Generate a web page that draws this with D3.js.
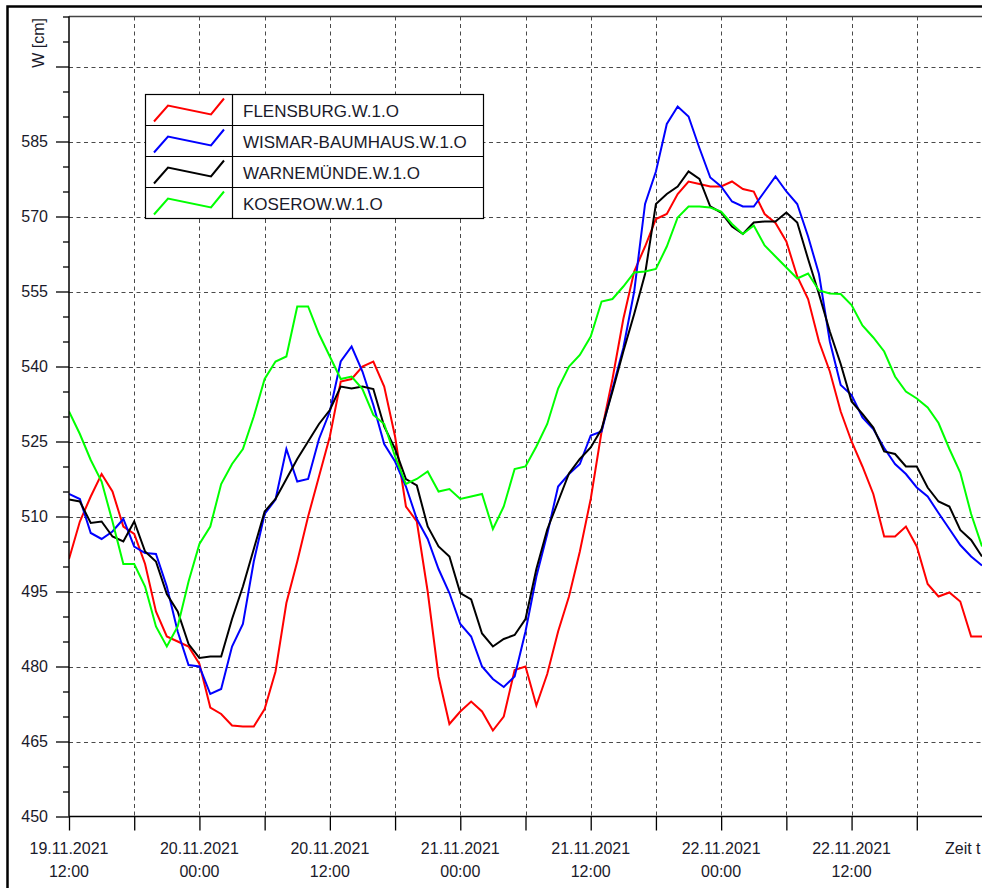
<!DOCTYPE html>
<html><head><meta charset="utf-8">
<script src="https://cdn.jsdelivr.net/npm/d3@7"></script>
<style>
body{margin:0;background:#fff}
svg{display:block;font-family:"Liberation Sans",Arial,sans-serif}
</style>
</head><body>
<svg id="c" width="982" height="888"></svg>
<script>
// ---------- data (hourly readings, 19.11.2021 12:00 -> 23.11.2021 00:00) ----------
const startTime = Date.UTC(2021, 10, 19, 12);
const endTime = Date.UTC(2021, 10, 23, 0);

const seriesNames = ["FLENSBURG.W.1.O", "WISMAR-BAUMHAUS.W.1.O", "WARNEMÜNDE.W.1.O", "KOSEROW.W.1.O"];
const seriesColors = ["#ff0000", "#0000ff", "#000000", "#00ff00"];

const flensburg = [501.5,509,514,518.5,515,508,506.5,500.5,491,486,485,484,480.5,471.8,470.5,468.2,468,468,471.5,479,492.7,501,510,518,526,
  537,537.5,540,541,536,526,512,509,495,478,468.5,471,473,471,467.2,470,479.3,480,472.2,478.5,487,494,503,513.5,527,537.5,
  549.5,559,564,569.5,570.5,574.5,577,576.5,576,576,577,575.5,575,570.5,568.7,565,558,553.5,545,539,531,525,520,514.5,506,
  506,508,504,496.5,494,494.8,493,486,486];
const wismar = [514.5,513.5,506.7,505.5,507,509.5,504,502.7,502.5,496,487,480.3,480,474.5,475.5,484,488.5,501,510.5,513.4,523.5,517,517.5,525.5,531,
  541,544,539,532.3,524.5,521,516,509.5,505.5,499.5,494.7,488.5,486,480,477.5,475.9,478,487,498,506.5,516,518.5,520.5,526.2,527,535.5,
  543.7,555,572.5,579,588.5,592,590,583.7,577.8,576,573,572,572,575,578,575,572.5,566,558.5,545,536.3,534.3,529.8,527.5,523.7,
  520.5,518.5,515.8,514,510.7,507.5,504.3,502,500.2];
const warnemuende = [513.4,513,508.7,509,506,505,509,503,501,494.5,491,484.5,481.7,482,482,489.5,496,503.5,511,513.5,517.5,521.5,525,528.5,531.3,
  536,535.6,536,535.5,528,523.5,517.5,516.2,508,504,502,494.7,493.4,486.6,484,485.5,486.3,489.5,499.5,507.4,513,518.6,521.5,523.8,527.5,535,
  543,550.5,558.5,572.5,574.5,576,579,577.5,572,570.8,568,566.5,568.8,569,569,570.8,568.8,561.5,554.5,547,540.5,533,530.5,527.8,523,
  522.5,520,520,515.8,513,512,507.3,505.3,502];
const koserow = [531,526.5,521.3,517,509,500.5,500.5,496,488,484,488,497,504.5,508,516.5,520.5,523.5,530,537.5,541,542,552,552,546.5,542,
  537.5,538,535.5,530.3,528.5,522,516.5,517.5,519,515,515.5,513.5,514,514.5,507.5,512,519.5,520,524,528.5,535.6,540,542.3,546,553,553.5,
  556,558.8,559,559.5,564,569.8,572,572,571.8,571,568.5,566.5,568.2,564.2,562,559.8,557.6,558.6,555.2,554.6,554.5,552.3,548.2,545.8,543,
  538,535,533.6,531.8,528.7,523.5,518.8,510.5,504];

const seriesValues = [flensburg, wismar, warnemuende, koserow];

const yTickValues = [450, 465, 480, 495, 510, 525, 540, 555, 570, 585, 600];
const yMinorStep = 5;
const xTickLabels = [
  ["19.11.2021", "12:00"], ["20.11.2021", "00:00"], ["20.11.2021", "12:00"], ["21.11.2021", "00:00"],
  ["21.11.2021", "12:00"], ["22.11.2021", "00:00"], ["22.11.2021", "12:00"]
];
const yAxisTitle = "W [cm]";
const xAxisTitle = "Zeit t";

// ---------- drawing ----------
const svg = d3.select("#c");
const L = 69, R = 982, T = 16.5, B = 816.5;
const x = d3.scaleUtc().domain([new Date(startTime), new Date(endTime)]).range([L, R]);
const y = d3.scaleLinear().domain([450, 610]).range([B, T]);
const tAt = i => new Date(startTime + i * 3600e3);

svg.append("rect").attr("width", 982).attr("height", 888).attr("fill", "#fff");

// outer frame
svg.append("path").attr("d", "M7.5,888 V6.5 H982").attr("fill", "none")
  .attr("stroke", "#000").attr("stroke-width", 2.5);
// plot top border
svg.append("line").attr("x1", L).attr("x2", R).attr("y1", T).attr("y2", T)
  .attr("stroke", "#444").attr("stroke-width", 1.5);

const grid = svg.append("g").attr("stroke", "#4a4a4a").attr("stroke-width", 1)
  .attr("stroke-dasharray", "4,3.5").attr("fill", "none");
yTickValues.filter(v => v !== 450).forEach(v => {
  const yy = Math.round(y(v)) + 0.5;
  grid.append("line").attr("x1", L).attr("x2", R).attr("y1", yy).attr("y2", yy);
});
const xTicks = d3.utcHour.every(6).range(new Date(startTime), new Date(endTime));
xTicks.slice(1).forEach(d => {
  const xx = Math.round(x(d)) + 0.5;
  grid.append("line").attr("x1", xx).attr("x2", xx).attr("y1", T).attr("y2", B);
});

// lines
svg.append("clipPath").attr("id", "clip").append("rect")
  .attr("x", L).attr("y", T).attr("width", R - L).attr("height", B - T);
const line = d3.line().x((d, i) => x(tAt(i))).y(d => y(d));
const lg = svg.append("g").attr("clip-path", "url(#clip)");
seriesValues.forEach((vals, k) => {
  lg.append("path").datum(vals).attr("d", line).attr("fill", "none")
    .attr("stroke", seriesColors[k]).attr("stroke-width", 2).attr("stroke-linejoin", "miter");
});

// y axis
const yAxis = svg.append("g").attr("transform", `translate(${L},0)`)
  .call(d3.axisLeft(y).tickValues(yTickValues).tickSize(13).tickSizeOuter(0).tickPadding(8)
    .tickFormat(v => v === 600 ? "" : v));
yAxis.select(".domain").remove();
yAxis.selectAll("line").attr("stroke", "#000").attr("stroke-width", 1.3);
yAxis.selectAll("text").attr("font-size", 16).attr("fill", "#1a1a2a")
  .attr("font-family", '"Liberation Sans",Arial,sans-serif');
const minorVals = d3.range(450, 611, yMinorStep).filter(v => !yTickValues.includes(v));
const yMinor = svg.append("g").attr("transform", `translate(${L},0)`)
  .call(d3.axisLeft(y).tickValues(minorVals).tickSize(6).tickSizeOuter(0).tickFormat(""));
yMinor.select(".domain").remove();
yMinor.selectAll("line").attr("stroke", "#000").attr("stroke-width", 1.3);
svg.append("line").attr("x1", L).attr("x2", L).attr("y1", T).attr("y2", B)
  .attr("stroke", "#000").attr("stroke-width", 1.5);

// x axis
const xAxis = svg.append("g").attr("transform", `translate(0,${B})`)
  .call(d3.axisBottom(x).tickValues(xTicks).tickSize(14).tickSizeOuter(0).tickFormat(""));
xAxis.select(".domain").remove();
xAxis.selectAll("line").attr("stroke", "#000").attr("stroke-width", 1.3);
svg.append("line").attr("x1", L).attr("x2", R).attr("y1", B).attr("y2", B)
  .attr("stroke", "#000").attr("stroke-width", 1.5);

const labelTicks = d3.utcHour.every(12).range(new Date(startTime), new Date(endTime));
labelTicks.forEach((d, i) => {
  if (!xTickLabels[i]) return;
  const tx = svg.append("text").attr("x", x(d)).attr("text-anchor", "middle")
    .attr("font-size", 16).attr("fill", "#1a1a2a");
  tx.append("tspan").attr("x", x(d)).attr("y", 854).text(xTickLabels[i][0]);
  tx.append("tspan").attr("x", x(d)).attr("y", 877).text(xTickLabels[i][1]);
});
svg.append("text").attr("x", 945).attr("y", 854).attr("font-size", 16)
  .attr("fill", "#1a1a2a").text(xAxisTitle);
svg.append("text").attr("transform", "translate(44,18) rotate(-90)").attr("text-anchor", "end")
  .attr("font-size", 16).attr("fill", "#1a1a2a").text(yAxisTitle);

// legend
const legX = 145.5, legY = 94.5, rowH = 31, legW = 338;
const leg = svg.append("g");
leg.append("rect").attr("x", legX).attr("y", legY).attr("width", legW).attr("height", rowH * 4)
  .attr("fill", "#fff").attr("stroke", "#000").attr("stroke-width", 1.2);
for (let i = 1; i < 4; i++) {
  leg.append("line").attr("x1", legX).attr("x2", legX + legW)
    .attr("y1", legY + rowH * i).attr("y2", legY + rowH * i).attr("stroke", "#000").attr("stroke-width", 1.2);
}
leg.append("line").attr("x1", 232.5).attr("x2", 232.5).attr("y1", legY).attr("y2", legY + rowH * 4)
  .attr("stroke", "#000").attr("stroke-width", 1.2);
seriesNames.forEach((name, i) => {
  const top = legY + rowH * i;
  leg.append("path")
    .attr("d", `M154,${top + 27} L168,${top + 11} L211,${top + 20} L224,${top + 4}`)
    .attr("fill", "none").attr("stroke", seriesColors[i]).attr("stroke-width", 2);
  leg.append("text").attr("x", 243).attr("y", top + 22).attr("font-size", 17)
    .attr("fill", "#1a1a2a").text(name);
});
</script>
</body></html>
